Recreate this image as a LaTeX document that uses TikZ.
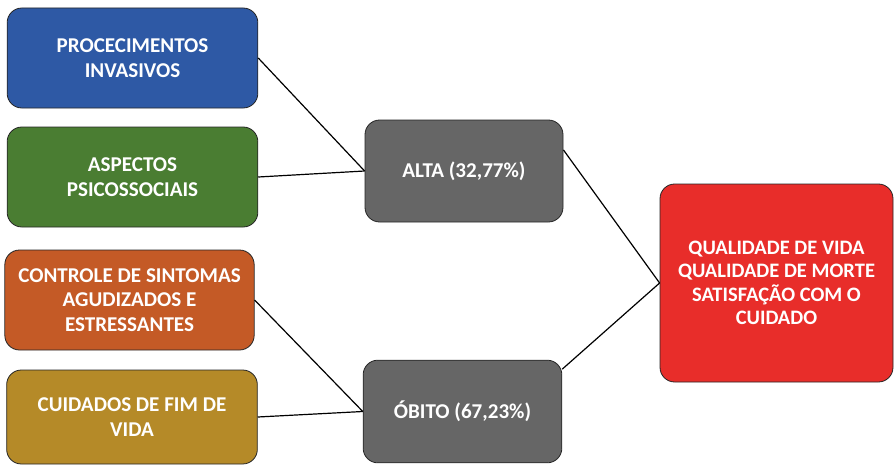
\documentclass[tikz,border=0pt]{standalone}
\usepackage{fontspec}
\setmainfont{Carlito}
\definecolor{azul}{RGB}{46,89,165}
\definecolor{verde}{RGB}{74,125,50}
\definecolor{laranja}{RGB}{196,90,38}
\definecolor{ouro}{RGB}{181,138,40}
\definecolor{cinza}{RGB}{102,102,102}
\definecolor{vermelho}{RGB}{232,45,42}
\tikzset{
  caixa/.style={draw=black!85,line width=0.6pt,rounded corners=11pt,text=white,
    font=\bfseries\fontsize{15.8}{18.5}\selectfont,align=center,inner sep=0pt,
    minimum width=188pt,minimum height=75pt},
  liga/.style={line width=0.9pt}
}
\begin{document}
\begin{tikzpicture}[x=0.75pt,y=-0.75pt]
\useasboundingbox (0,0) rectangle (895,467);
% causas
\node[caixa,fill=azul] (proc) at (132.5,58) {PROCECIMENTOS\\INVASIVOS};
\node[caixa,fill=verde] (psico) at (132.5,177) {ASPECTOS\\PSICOSSOCIAIS};
\node[caixa,fill=laranja,minimum width=187pt] (sint) at (129.5,300) {CONTROLE DE SINTOMAS\\AGUDIZADOS E\\ESTRESSANTES};
\node[caixa,fill=ouro,minimum height=70.5pt] (fim) at (132,417) {CUIDADOS DE FIM DE\\VIDA};
% desfechos
\node[caixa,fill=cinza,minimum width=148.5pt,minimum height=76.5pt] (alta) at (464,171) {ALTA (32,77\%)};
\node[caixa,fill=cinza,minimum width=149pt,minimum height=77pt] (obito) at (462.5,411.5) {ÓBITO (67,23\%)};
\node[caixa,fill=vermelho,minimum width=174.75pt,minimum height=148.5pt,
  font=\bfseries\fontsize{15.4}{17.6}\selectfont] (qual) at (776.5,283)
  {QUALIDADE DE VIDA\\QUALIDADE DE MORTE\\SATISFAÇÃO COM O\\CUIDADO};
%%%%
\draw[liga] (proc.east) -- (alta.west);
\draw[liga] (psico.east) -- (alta.west);
\draw[liga] (sint.east) -- (obito.west);
\draw[liga] (fim.east) -- (obito.west);
\draw[liga] (alta.12) -- (qual.west);
\draw[liga] (obito.23) -- (qual.west);
\end{tikzpicture}
\end{document}
